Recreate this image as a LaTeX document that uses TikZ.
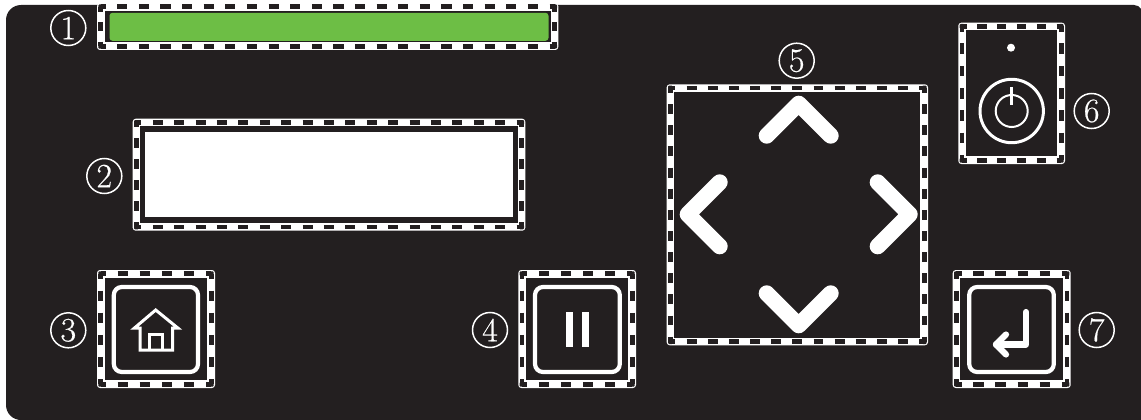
\documentclass[tikz,border=0pt]{standalone}
\usepackage{fontspec}
\newfontfamily\numfont[FakeBold=0.5]{Latin Modern Roman}
\definecolor{panel}{HTML}{231F20}
\definecolor{lamp}{HTML}{6DBE45}
\tikzset{
  numlabel/.style={circle,draw=white,line width=1.5pt,text=white,inner sep=0pt,minimum size=35pt,font=\fontsize{34}{34}\numfont},
  keyframe/.style={draw=white,line width=4.2pt,rounded corners=8pt},
  chevron/.style={draw=white,line width=16pt,line cap=round,line join=round},
  thinwhite/.style={draw=white,line cap=round,line join=round}
}
\newcommand{\dashedside}[4]{%
  \pgfmathsetmacro{\sideL}{veclen(#3-#1,#4-#2)}%
  \pgfmathsetmacro{\sideN}{max(1,round(\sideL/22))}%
  \pgfmathsetmacro{\sideP}{\sideL/\sideN}%
  \pgfmathsetmacro{\sideOn}{\sideP*0.47}%
  \pgfmathsetmacro{\sideOff}{\sideP*0.53}%
  \pgfmathsetmacro{\sidePh}{\sideOn/2}%
  \draw[panel,line width=4.8pt,dash pattern=on \sideOn pt off \sideOff pt,dash phase=\sidePh pt] (#1,#2) -- (#3,#4);%
}
\newcommand{\bandframe}[4]{%
  \fill[white,rounded corners=3pt] (#1,#2) rectangle (#3,#4);
  \fill[panel] (#1+7.7,#2+7.7) rectangle (#3-7.7,#4-7.7);
  \pgfmathsetmacro{\fxa}{#1+3.7}\pgfmathsetmacro{\fya}{#2+3.7}%
  \pgfmathsetmacro{\fxb}{#3-3.7}\pgfmathsetmacro{\fyb}{#4-3.7}%
  \edef\doit{\noexpand\dashedside{\fxa}{\fya}{\fxb}{\fya}\noexpand\dashedside{\fxa}{\fyb}{\fxb}{\fyb}\noexpand\dashedside{\fxa}{\fya}{\fxa}{\fyb}\noexpand\dashedside{\fxb}{\fya}{\fxb}{\fyb}}\doit
  \foreach \cx/\cy in {\fxa/\fya,\fxa/\fyb,\fxb/\fya,\fxb/\fyb}{\fill[panel,rounded corners=1pt] (\cx-2.4,\cy-2.4) rectangle (\cx+2.4,\cy+2.4);}
}
\begin{document}
\begin{tikzpicture}[x=1pt,y=-1pt]
\useasboundingbox (0,0) rectangle (1141,420);
\fill[white] (0,0) rectangle (1141,420);
\fill[panel] (6,20) .. controls (6,11.7) and (12.7,5) .. (21,5) -- (1134,5) .. controls (1137,5) and (1139.5,6.5) .. (1141,9) -- (1141,420) -- (21,420) .. controls (12.7,420) and (6,413.3) .. (6,405) -- cycle;

% 1 lamp
\bandframe{97}{3.2}{558.3}{50}
\fill[lamp,rounded corners=3pt] (109.5,12.8) rectangle (548.5,40.8);
% 2 display
\bandframe{132.7}{118.7}{525.3}{230.7}
\fill[white] (145,132) rectangle (513.3,216.7);
% 3 home
\bandframe{97}{270}{215}{388}
\draw[keyframe] (113.8,287) rectangle (198,372);
\draw[thinwhite,line width=3pt,line join=miter] (134.5,328) -- (155.7,310) -- (177.8,328) -- (172.7,328) -- (172.7,350) -- (140,350) -- (140,328) -- cycle;
\draw[white,line width=3pt,line join=miter] (149.5,350) -- (149.5,334) -- (162.5,334) -- (162.5,350);
% 4 pause
\bandframe{518.3}{270}{636}{388}
\draw[keyframe] (535,287) rectangle (619.8,372);
\fill[white] (566,311.7) rectangle (572.7,347.3);
\fill[white] (581.5,311.7) rectangle (588.7,347.3);
% 5 arrows
\bandframe{666.7}{84.3}{928}{345.3}
\draw[chevron] (766.7,135.7) -- (798.7,103.7) -- (830.7,135.7);
\draw[chevron] (766.7,293.3) -- (798.7,325.3) -- (830.7,293.3);
\draw[chevron] (719.7,182.3) -- (687.7,214.3) -- (719.7,246.3);
\draw[chevron] (877.7,182.3) -- (909.7,214.3) -- (877.7,246.3);
% 6 power
\bandframe{958.3}{22.7}{1065}{164}
\fill[white] (1011,47.7) circle (4);
\draw[white,line width=3pt] (1011.7,111) circle (31.7);
\draw[white,line width=2pt] (1011.7,111) circle (16);
\draw[white,line width=2.6pt] (1011.7,87.5) -- (1011.7,105);
% 7 enter
\bandframe{952.7}{270}{1070.7}{388}
\draw[keyframe] (969.2,287) rectangle (1053.8,372);
\draw[thinwhite,line width=6.2pt] (1026,312) -- (1026,344.5) -- (996,344.5);
\draw[thinwhite,line width=6.2pt] (1006,334.5) -- (996,344.5) -- (1006,354.5);

\node[numlabel] (n1) at (68.3,28) {1};
\node[numlabel] (n2) at (104.3,176) {2};
\node[numlabel] (n3) at (68.3,330.3) {3};
\node[numlabel] (n4) at (490,330) {4};
\node[numlabel] (n5) at (796.7,60.7) {5};
\node[numlabel] (n6) at (1091.7,111) {6};
\node[numlabel] (n7) at (1096.7,330) {7};
\end{tikzpicture}
\end{document}
